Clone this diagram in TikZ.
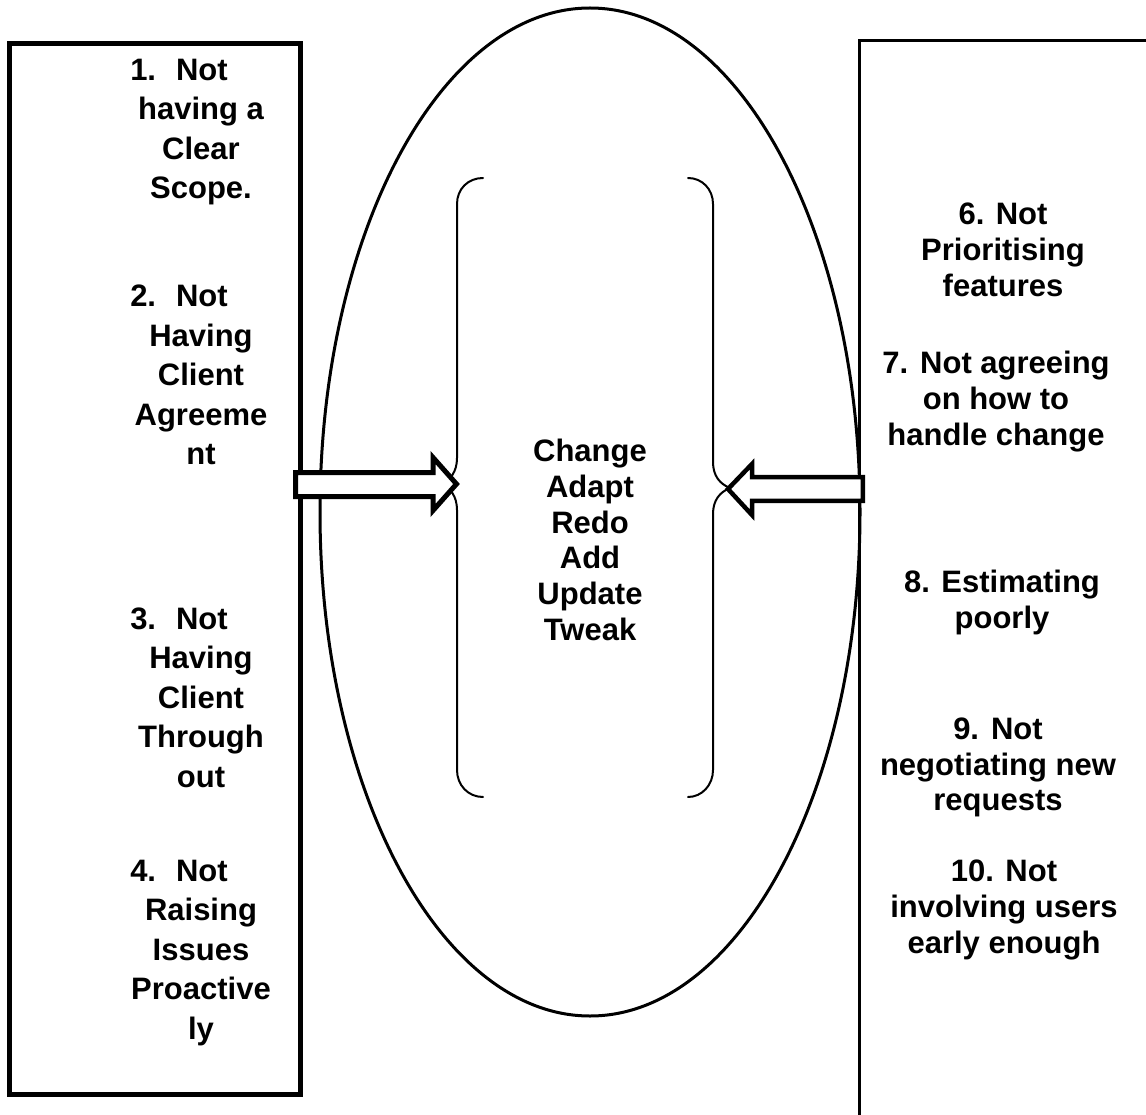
\documentclass[tikz,border=0pt]{standalone}
\usepackage{fontspec}
\setmainfont{Liberation Sans}
\begin{document}
\begin{tikzpicture}[x=1pt,y=-1pt,
  lbl/.style={font=\bfseries\fontsize{31}{39.5}\selectfont, align=center, inner sep=0pt},
  rlbl/.style={font=\bfseries\fontsize{31}{35.7}\selectfont, align=center, inner sep=0pt},
  brace/.style={line width=2pt, line join=round, line cap=round},
  blockarrow/.style={fill=white, line join=miter}]
\clip (0,0) rectangle (1146,1115);
\fill[white] (0,0) rectangle (1146,1115);

% central ellipse
\draw[line width=3pt] (590,512) ellipse [x radius=270, y radius=504];

% left and right braces inside the ellipse
\draw[brace] (483,178) .. controls (468,178) and (457,189) .. (457,204) -- (457,458)
  .. controls (457,472) and (450,480) .. (442,484)
  .. controls (450,488) and (457,496) .. (457,510) -- (457,770)
  .. controls (457,785) and (468,797) .. (483,797);
\draw[brace] (688,178) .. controls (702,178) and (713,189) .. (713,204) -- (713,462)
  .. controls (713,476) and (720,484) .. (730,488)
  .. controls (720,492) and (713,500) .. (713,514) -- (713,770)
  .. controls (713,785) and (702,797) .. (688,797);

% side boxes
\draw[line width=5pt] (9.5,44) rectangle (300,1094);
\draw[line width=3pt] (1160,40.5) -- (859.5,40.5) -- (859.5,1130);

% block arrows pointing into the braces
\draw[blockarrow, line width=5pt] (295.5,472.5) -- (433,472.5) -- (433,457.5) -- (456.5,484)
  -- (433,510.5) -- (433,496.5) -- (295.5,496.5) -- cycle;
\draw[blockarrow, line width=4.5pt] (862.8,477.2) -- (752,477.2) -- (752,464) -- (728,489)
  -- (752,515) -- (752,500.8) -- (862.8,500.8) -- cycle;

% left column
\node[lbl] (l1) at (201,132) {1.\hspace{20pt}Not\hspace*{44pt}\\having a\\Clear\\Scope.};
\node[lbl] (l2) at (201,375) {2.\hspace{20pt}Not\hspace*{44pt}\\Having\\Client\\Agreeme\\nt};
\node[lbl] (l3) at (201,697.5) {3.\hspace{20pt}Not\hspace*{44pt}\\Having\\Client\\Through\\out};
\node[lbl] (l4) at (201,953) {4.\hspace{20pt}Not\hspace*{44pt}\\Raising\\Issues\\Proactive\\ly};

% centre list
\node[rlbl] (c) at (590,540) {Change\\Adapt\\Redo\\Add\\Update\\Tweak};

% right column
\node[rlbl] (r6) at (1003,250) {6. Not\\Prioritising\\features};
\node[rlbl] (r7) at (996,401.5) {7.\hspace{12pt}Not agreeing\\on how to\\handle change};
\node[rlbl] (r8) at (1002,602.5) {8. Estimating\\poorly};
\node[rlbl] (r9) at (998,767.5) {9.\hspace{12pt}Not\\negotiating new\\requests};
\node[rlbl] (r10) at (1004,910) {10. Not\\involving users\\early enough};
\end{tikzpicture}
\end{document}
